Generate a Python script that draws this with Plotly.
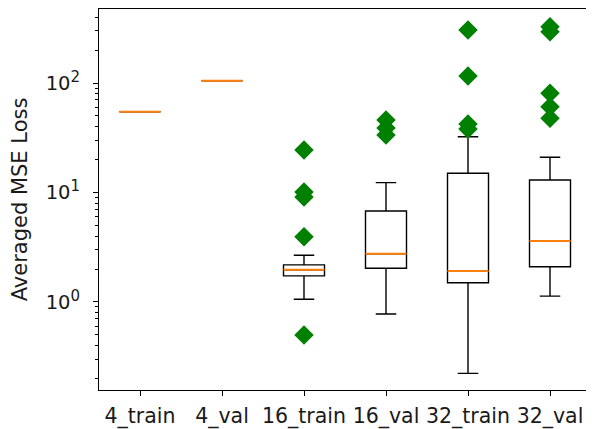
import plotly.graph_objects as go

categories = ["4_train", "4_val", "16_train", "16_val", "32_train", "32_val"]
q1 = [54.7, 105.0, 1.73, 2.03, 1.50, 2.10]
medians = [54.7, 105.0, 1.97, 2.76, 1.92, 3.61]
q3 = [54.7, 105.0, 2.18, 6.78, 15.0, 13.0]
whisker_lo = [54.7, 105.0, 1.06, 0.777, 0.223, 1.13]
whisker_hi = [54.7, 105.0, 2.67, 12.3, 32.3, 21.0]
outliers = [
    [],
    [],
    [24.4, 10.1, 9.1, 3.95, 0.50],
    [45.9, 38.8, 33.5],
    [305.0, 116.0, 42.2, 38.0],
    [327.0, 294.0, 80.5, 60.8, 47.6],
]

positions = list(range(1, len(categories) + 1))
box_width = 0.5

fig = go.Figure()
fig.add_trace(go.Box(
    x=positions, q1=q1, median=medians, q3=q3,
    lowerfence=whisker_lo, upperfence=whisker_hi,
    width=box_width, whiskerwidth=0.5,
    fillcolor="rgba(255,255,255,0)",
    line=dict(color="black", width=1.4),
    boxpoints=False, showlegend=False, hoverinfo="skip",
))

# orange median lines
mx, my = [], []
for p, m in zip(positions, medians):
    mx += [p - box_width / 2, p + box_width / 2, None]
    my += [m, m, None]
fig.add_trace(go.Scatter(x=mx, y=my, mode="lines",
                         line=dict(color="#ff7f0e", width=2),
                         showlegend=False, hoverinfo="skip"))

# outliers
ox, oy = [], []
for p, vals in zip(positions, outliers):
    ox += [p] * len(vals)
    oy += vals
fig.add_trace(go.Scatter(x=ox, y=oy, mode="markers",
                         marker=dict(symbol="diamond", color="#008000", size=15,
                                     line=dict(width=0)),
                         showlegend=False, hoverinfo="skip"))

minor_vals = [k * 10 ** e for e in (-1, 0, 1, 2) for k in range(2, 10)]

# page body has an 8px margin, so the figure is offset by 8px
fig.update_layout(
    width=586, height=421,
    margin=dict(l=91, r=3, t=1, b=39, autoexpand=False),
    paper_bgcolor="white", plot_bgcolor="white",
    font=dict(family="DejaVu Sans", size=20, color="#1a1a1a"),
)
fig.update_xaxes(
    range=[0.5, 6.5], tickvals=positions, ticktext=categories,
    showgrid=False, zeroline=False,
    showline=True, linecolor="black", linewidth=1.2, mirror=True,
    ticks="outside", ticklen=5, tickcolor="black",
    tickfont=dict(size=20.5), ticklabelstandoff=2,
)
fig.update_yaxes(
    type="log", range=[-0.804, 2.676],
    tickvals=[1, 10, 100],
    ticktext=["10<sup><span style='font-size:15px'>0</span></sup>",
              "10<sup><span style='font-size:15px'>1</span></sup>",
              "10<sup><span style='font-size:15px'>2</span></sup>"],
    showgrid=False, zeroline=False,
    showline=True, linecolor="black", linewidth=1.2, mirror=True,
    ticks="outside", ticklen=5, tickcolor="black",
    tickfont=dict(size=19.5), ticklabelstandoff=9,
    minor=dict(tickvals=minor_vals, ticks="outside", ticklen=3, tickcolor="black", showgrid=False),
    title=dict(text="Averaged MSE Loss", font=dict(size=21), standoff=15),
)

fig.write_html("out.html")
